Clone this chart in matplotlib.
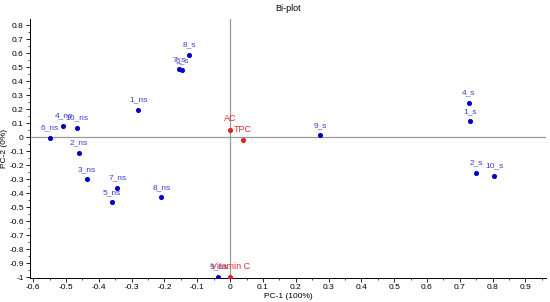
import matplotlib.pyplot as plt
from matplotlib.ticker import MultipleLocator

# sample scores
sample_names = ["1_ns", "2_ns", "3_ns", "4_ns", "5_ns", "6_ns", "7_ns", "8_ns", "9_ns", "10_ns",
                "1_s", "2_s", "4_s", "6_s", "7_s", "8_s", "9_s", "10_s"]
sample_x = [-0.280, -0.462, -0.437, -0.508, -0.360, -0.549, -0.344, -0.210, -0.036, -0.466,
            0.731, 0.751, 0.727, -0.146, -0.156, -0.124, 0.274, 0.806]
sample_y = [0.193, -0.114, -0.302, 0.079, -0.467, -0.005, -0.362, -0.429, -0.998, 0.067,
            0.112, -0.255, 0.243, 0.476, 0.483, 0.586, 0.012, -0.276]

# variable loadings
var_names = ["AC", "TPC", "Vitamin C"]
var_x = [0.0, 0.039, 0.0]
var_y = [0.052, -0.021, -1.0]

plt.rcParams['font.family'] = ['Liberation Sans', 'DejaVu Sans']
plt.rcParams['font.size'] = 6

fig = plt.figure(figsize=(5.5, 3.02), dpi=100)
ax = fig.add_axes([30 / 550, 1 - 278 / 302, 516 / 550, 259 / 302])

ax.axhline(0, color="#999999", lw=0.9, zorder=1)
ax.axvline(0, color="#999999", lw=0.9, zorder=1)

ax.scatter(sample_x, sample_y, s=7, color="#0000c8", zorder=3)
for name, x, y in zip(sample_names, sample_x, sample_y):
    ax.annotate(name, (x, y), xytext=(0, 4.5), textcoords="offset points",
                ha="center", va="bottom", color="#3c3cd2", fontsize=6)

ax.scatter(var_x, var_y, s=7, color="#e02020", zorder=3)
for name, x, y in zip(var_names, var_x, var_y):
    ax.annotate(name, (x, y), xytext=(0, 4.5), textcoords="offset points",
                ha="center", va="bottom", color="#e03030", fontsize=6.5)

ax.set_xlim(-0.61, 0.963)
ax.set_ylim(-1.007, 0.843)
ax.xaxis.set_major_locator(MultipleLocator(0.1))
ax.xaxis.set_minor_locator(MultipleLocator(0.05))
ax.yaxis.set_major_locator(MultipleLocator(0.1))
ax.yaxis.set_minor_locator(MultipleLocator(0.05))
ax.xaxis.set_major_formatter(lambda v, p: f"{v:g}" if abs(v) > 1e-9 else "0")
ax.yaxis.set_major_formatter(lambda v, p: f"{v:g}" if abs(v) > 1e-9 else "0")
ax.tick_params(direction="out", length=3, width=0.6, labelsize=6, pad=1.5)
ax.tick_params(which="minor", direction="out", length=1.5, width=0.5)

for s in ["top", "right"]:
    ax.spines[s].set_visible(False)
for s in ["left", "bottom"]:
    ax.spines[s].set_linewidth(0.7)

ax.set_title("Bi-plot", fontsize=6.5, pad=6)
ax.set_xlabel("PC-1 (100%)", fontsize=6, labelpad=1)
ax.set_ylabel("PC-2 (0%)", fontsize=6)
ax.yaxis.set_label_coords(-0.042, 0.5)

fig.savefig("out.png", dpi=100)
